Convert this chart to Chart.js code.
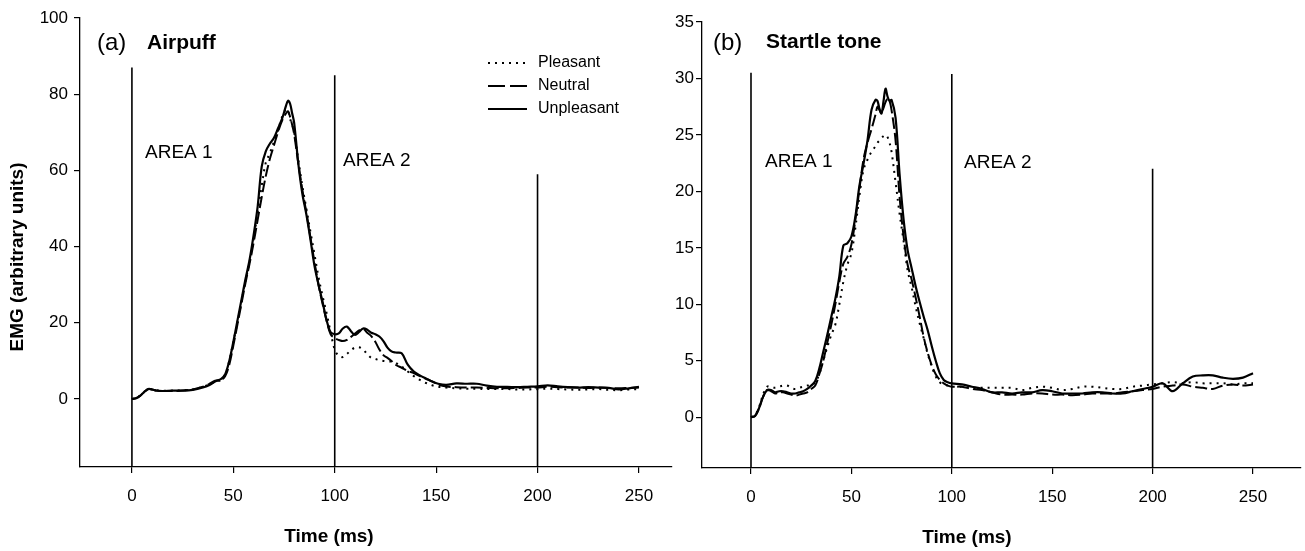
<!DOCTYPE html>
<html>
<head>
<meta charset="utf-8">
<script src="https://cdn.jsdelivr.net/npm/chart.js@4"></script>
<style>
  body { margin: 0; background: #fff; }
  #wrap { position: relative; width: 1305px; height: 551px; }
  canvas { position: absolute; top: 0; }
  #cA { left: 0; }
  #cB { left: 640px; }
</style>
</head>
<body>
<div id="wrap">
  <canvas id="cA" width="680" height="551"></canvas>
  <canvas id="cB" width="665" height="551"></canvas>
</div>
<script>
// (a) Airpuff
const timeA = [0, 2, 4, 6, 8, 10, 12, 15, 20, 25, 30, 35, 38, 41, 44, 46, 48, 50, 52, 54, 56, 58, 60, 62, 64, 66, 68, 70, 72, 74, 76, 77, 78, 79, 80, 82, 84, 86, 88, 90, 92, 94, 96, 98, 100,
  102, 104, 106, 108, 110, 112, 114, 116, 118, 120, 122, 124, 126, 128, 130, 133, 136, 139, 142, 145, 148, 151, 155, 160, 165, 170, 175, 180, 185, 190, 195, 200,
  205, 210, 215, 220, 225, 230, 235, 240, 245, 250];
const pleasantA = [0, 0.3, 0.9, 1.9, 2.6, 2.5, 2.3, 2.2, 2.2, 2.3, 2.5, 3.2, 3.8, 4.5, 5.0, 6.5, 10, 15, 20, 25.5, 31, 36, 42, 49, 56, 62, 64.5, 67.5, 70.5, 74, 76, 75.5, 73.5, 72, 70, 63, 56, 50, 44, 38, 32, 27, 22.5, 17.5, 13,
  11.3, 11, 11.8, 12.8, 13.5, 13.6, 13, 11.8, 10.8, 10.5, 10.2, 10, 9.9, 9.8, 9.5, 8.5, 7.2, 6, 5, 4.2, 3.6, 3.2, 3.0, 2.8, 2.7, 2.7, 2.6, 2.6, 2.6, 2.5, 2.5, 2.6,
  2.7, 2.6, 2.5, 2.4, 2.5, 2.6, 2.4, 2.3, 2.5, 2.6];
const neutralA = [0, 0.2, 0.8, 1.8, 2.6, 2.5, 2.2, 2.1, 2.1, 2.2, 2.5, 3.2, 3.9, 4.8, 5.0, 6, 9, 14, 19.5, 25, 30.5, 35.5, 41, 47, 53, 58.5, 63, 66.5, 70, 73, 75, 75.5, 74, 72, 69.5, 62, 55, 49, 42.5, 36, 30, 25, 20.5, 17, 16,
  15.5, 15.2, 15.5, 16.3, 17.2, 18, 18.4, 17.4, 16.5, 15, 13, 11.5, 10.8, 10, 9, 8.2, 7.4, 6.8, 6, 5.3, 4.6, 3.8, 3.3, 3.1, 3.0, 3.0, 2.9, 2.8, 2.8, 2.9, 3.0, 3.0,
  3.2, 3.1, 3.0, 3.0, 2.9, 3.0, 2.9, 2.8, 2.9, 3.0];
const unpleasantA = [0, 0.2, 0.8, 1.8, 2.6, 2.5, 2.2, 2.1, 2.2, 2.2, 2.4, 3.0, 3.6, 4.6, 5.3, 6.5, 10, 15, 20.5, 26, 31.5, 36.5, 43, 50.5, 61, 65, 67, 68.5, 71, 73.5, 77, 78.3, 77.5, 75, 72.5, 62, 54, 48.5, 42, 35, 30, 25.5, 20.7, 17.5, 17,
  17.2, 18.5, 19, 17.8, 16.8, 17.6, 18.5, 18.2, 17.4, 17, 16.4, 15.2, 13.5, 12.5, 12.2, 12, 9, 7.2, 6.2, 5.4, 4.6, 4.0, 3.7, 4.1, 4.0, 4.0, 3.5, 3.2, 3.2, 3.1, 3.2, 3.3,
  3.6, 3.3, 3.1, 3.0, 3.1, 3.0, 2.9, 2.5, 2.8, 3.2];

// (b) Startle tone
const timeB = [0, 2, 4, 6, 8, 10, 12, 14, 16, 18, 20, 22, 24, 26, 28, 30, 32, 34, 36, 38, 40, 42, 44, 46, 48, 50, 52, 54, 56, 58, 60, 62, 63, 64, 65, 66, 67, 68, 69, 70,
  72, 74, 76, 78, 80, 82, 84, 86, 88, 90, 92, 94, 96, 98, 100, 105, 110, 115, 120, 125, 130, 135, 140, 145, 150, 155, 160, 165, 170, 175, 180, 185, 190, 195, 200,
  205, 210, 215, 220, 225, 230, 235, 240, 245, 250];
const pleasantB = [0, 0.2, 0.9, 2.0, 2.7, 2.7, 2.6, 2.7, 2.8, 2.8, 2.6, 2.5, 2.6, 2.7, 2.8, 2.8, 3.1, 3.8, 5.0, 6.2, 7.3, 8.2, 10, 12, 13.5, 14.5, 16.8, 19.6, 21.9, 22.8, 23.5, 24, 24.3, 24.5, 24.7, 24.9, 25, 24.8, 24.3, 23.5,
  20.8, 18, 15.6, 13, 11.5, 9.8, 8.3, 7, 5.6, 4.5, 3.6, 3.1, 2.9, 2.8, 2.7, 2.7, 2.6, 2.6, 2.6, 2.6, 2.6, 2.4, 2.6, 2.7, 2.6, 2.4, 2.5, 2.7, 2.7, 2.6, 2.5, 2.5, 2.7, 2.8, 2.9,
  3.0, 3.1, 3.0, 3.1, 3.0, 3.0, 3.0, 2.9, 3.0, 3.0];
const neutralB = [0, 0.1, 0.8, 1.8, 2.4, 2.3, 2.1, 2.2, 2.2, 2.1, 2.0, 1.9, 2.0, 2.1, 2.2, 2.5, 2.8, 3.8, 5.0, 6.6, 8.2, 10, 12, 13.6, 14.2, 15.3, 17.5, 20.2, 22.8, 24.3, 25.5, 26.8, 27.5, 27.2, 26.9, 27.4, 27.9, 28.2, 28, 27.2,
  24.5, 19.5, 16, 13.5, 12.2, 10.6, 8.9, 7.1, 5.7, 4.6, 3.8, 3.3, 3.0, 2.8, 2.7, 2.7, 2.5, 2.4, 2.2, 2.0, 2.0, 2.0, 2.1, 2.1, 2.0, 2.0, 1.95, 2.0, 2.1, 2.1, 2.1, 2.2, 2.3, 2.4, 2.5,
  2.7, 2.8, 2.9, 2.7, 2.6, 2.5, 2.8, 2.9, 2.8, 2.9];
const unpleasantB = [0, 0.1, 0.8, 1.8, 2.4, 2.4, 2.2, 2.3, 2.3, 2.2, 2.1, 2.1, 2.2, 2.3, 2.5, 2.8, 3.2, 4.3, 5.8, 7.3, 8.9, 10.5, 12.5, 15.2, 15.4, 16, 17.8, 20.5, 22.4, 24.5, 27.2, 28.1, 28, 27.3, 26.9, 28, 29.1, 28.4, 28, 28.1,
  26.5, 21.5, 17.5, 14.8, 13.2, 11.6, 10.2, 8.9, 7.7, 6.3, 5, 3.9, 3.3, 3.1, 3.0, 2.9, 2.7, 2.5, 2.2, 2.2, 2.1, 2.2, 2.2, 2.4, 2.3, 2.1, 2.1, 2.1, 2.2, 2.2, 2.1, 2.1, 2.3, 2.5, 2.7,
  3.0, 2.3, 3.0, 3.6, 3.7, 3.7, 3.5, 3.4, 3.5, 3.9];

// area borders: position (ms) and how high the line goes
const areaAt = [0, 100, 200];
const areaTopA = [87, 85, 59];
const areaTopB = [30.5, 30.4, 22];

const xTicks = [0, 50, 100, 150, 200, 250];
const yTicksA = [0, 20, 40, 60, 80, 100];
const yTicksB = [0, 5, 10, 15, 20, 25, 30, 35];
const seriesNames = ['Pleasant', 'Neutral', 'Unpleasant'];

const FONT = '"Liberation Sans", Arial, sans-serif';
const dash = [[2, 5], [12, 4], []];
const widths = [2, 2, 2.2];

function pts(time, vals) {
  return time.map((t, i) => ({ x: t, y: vals[i] }));
}

const textPlugin = {
  id: 'texts',
  afterDraw(chart, args, opts) {
    const ctx = chart.ctx;
    ctx.save();
    ctx.fillStyle = '#000';
    ctx.textBaseline = 'middle';
    (opts.items || []).forEach((it) => {
      ctx.font = it.font + ' ' + FONT;
      ctx.textAlign = it.align || 'left';
      if (it.rot) {
        ctx.save();
        ctx.translate(it.x, it.y);
        ctx.rotate(-Math.PI / 2);
        ctx.fillText(it.text, 0, 0);
        ctx.restore();
      } else {
        ctx.fillText(it.text, it.x, it.y);
      }
    });
    if (opts.legend) {
      const lg = opts.legend;
      ctx.lineWidth = 1.8;
      ctx.strokeStyle = '#000';
      ctx.font = '16px ' + FONT;
      ctx.textAlign = 'left';
      seriesNames.forEach((name, i) => {
        const y = lg.y + i * lg.gap;
        ctx.setLineDash(i === 1 ? [17, 5] : dash[i]);
        ctx.beginPath();
        ctx.moveTo(lg.x, y);
        ctx.lineTo(lg.x + 39, y);
        ctx.stroke();
        ctx.fillText(name, lg.x + 50, y);
      });
      ctx.setLineDash([]);
    }
    ctx.restore();
  }
};

function makePanel(id, o) {
  const datasets = [o.pleasant, o.neutral, o.unpleasant].map((vals, i) => ({
    label: seriesNames[i],
    data: pts(o.time, vals),
    borderColor: '#000',
    borderWidth: widths[i],
    borderDash: dash[i],
    pointRadius: 0,
    tension: 0.35
  }));
  areaAt.forEach((t, i) => {
    datasets.push({
      label: 'area',
      data: [{ x: t, y: o.yMin }, { x: t, y: o.areaTop[i] }],
      borderColor: '#000',
      borderWidth: 1.6,
      pointRadius: 0
    });
  });

  const grid = { drawOnChartArea: false, drawTicks: true, tickLength: 6, color: '#000', lineWidth: 1.2 };
  const border = { color: '#000', width: 1.3 };

  return new Chart(document.getElementById(id), {
    type: 'line',
    data: { datasets },
    plugins: [textPlugin],
    options: {
      responsive: false,
      animation: false,
      layout: { padding: { left: 0, top: o.top, right: o.right, bottom: 0 } },
      plugins: {
        legend: { display: false },
        tooltip: { enabled: false },
        texts: { items: o.texts, legend: o.legend }
      },
      scales: {
        x: {
          type: 'linear',
          min: o.xMin,
          max: o.xMax,
          afterBuildTicks: (s) => { s.ticks = xTicks.map((v) => ({ value: v })); },
          afterFit: (s) => { s.height = o.xAxisH; },
          grid,
          border,
          ticks: { color: '#000', font: { family: FONT, size: 17 }, padding: 13, maxRotation: 0 }
        },
        y: {
          type: 'linear',
          min: o.yMin,
          max: o.yMax,
          afterBuildTicks: (s) => { s.ticks = o.yTicks.map((v) => ({ value: v })); },
          afterFit: (s) => { s.width = o.yAxisW; },
          grid,
          border,
          ticks: { color: '#000', font: { family: FONT, size: 17 }, padding: o.yPad }
        }
      }
    }
  });
}

makePanel('cA', {
  time: timeA, pleasant: pleasantA, neutral: neutralA, unpleasant: unpleasantA,
  areaTop: areaTopA, yTicks: yTicksA,
  xMin: -25.6, xMax: 266.3, yMin: -17.85, yMax: 100,
  top: 18, right: 8, xAxisH: 84, yAxisW: 80, yPad: 6,
  texts: [
    { text: '(a)', x: 97, y: 43, font: '24px' },
    { text: 'Airpuff', x: 147, y: 43, font: 'bold 21px' },
    { text: 'AREA 1', x: 145, y: 153, font: '19px' },
    { text: 'AREA 2', x: 343, y: 161, font: '19px' },
    { text: 'Time (ms)', x: 329, y: 537, font: 'bold 19px', align: 'center' },
    { text: 'EMG (arbitrary units)', x: 18, y: 257, font: 'bold 19px', align: 'center', rot: true }
  ],
  legend: { x: 488, y: 63, gap: 23 }
});

makePanel('cB', {
  time: timeB, pleasant: pleasantB, neutral: neutralB, unpleasant: unpleasantB,
  areaTop: areaTopB, yTicks: yTicksB,
  xMin: -24.4, xMax: 273.9, yMin: -4.5, yMax: 35,
  top: 22, right: 4, xAxisH: 83, yAxisW: 62, yPad: 2,
  texts: [
    { text: '(b)', x: 73, y: 43, font: '24px' },
    { text: 'Startle tone', x: 126, y: 42, font: 'bold 21px' },
    { text: 'AREA 1', x: 125, y: 162, font: '19px' },
    { text: 'AREA 2', x: 324, y: 163, font: '19px' },
    { text: 'Time (ms)', x: 327, y: 538, font: 'bold 19px', align: 'center' }
  ]
});
</script>
</body>
</html>
